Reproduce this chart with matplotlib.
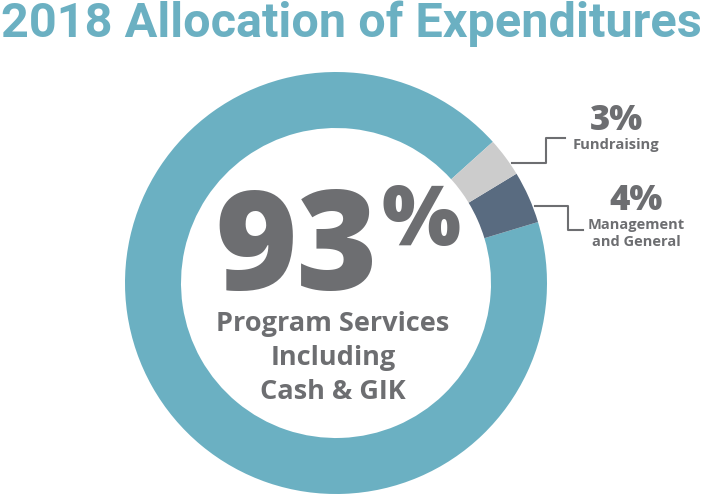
import matplotlib
matplotlib.use("Agg")
import matplotlib.pyplot as plt

# --- data ---
labels = ["Program Services Including Cash & GIK", "Management and General", "Fundraising"]
shares = [93, 4, 3]
colors = ["#6BB0C2", "#596B80", "#CCCCCC"]

TEAL = "#6BB0C2"
GREY = "#6D6E71"
W, H = 703, 496

fig = plt.figure(figsize=(W / 100, H / 100), dpi=100)
ax = fig.add_axes([0, 0, 1, 1])

# donut, in pixel units (y flipped so pie angles stay normal)
cx, cy = 336, H - 283
ax.pie(shares, colors=colors, startangle=42, center=(cx, cy), radius=211,
       wedgeprops=dict(width=56, linewidth=0))
ax.set_xlim(0, W)
ax.set_ylim(0, H)
ax.set_aspect("equal")
ax.axis("off")


def py(y):
    return H - y


# title
ax.text(1, py(37), "2018 Allocation of Expenditures", fontsize=35,
        family="Roboto", weight="bold", color=TEAL, ha="left", va="baseline")

# centre label
ax.text(297, py(290), f"{shares[0]}", fontsize=100, family="Open Sans",
        weight="heavy", color=GREY, ha="center", va="baseline")
ax.text(421, py(245), "%", fontsize=60, family="Open Sans",
        weight="heavy", color=GREY, ha="center", va="baseline")
for txt, yb in zip(["Program Services", "Including", "Cash & GIK"], [331, 365, 399]):
    ax.text(333, py(yb), txt, fontsize=19.5, family="Open Sans", weight="bold",
            color=GREY, ha="center", va="baseline")

# side labels
ax.text(616, py(130), f"{shares[2]}%", fontsize=25, family="Open Sans",
        weight="heavy", color=GREY, ha="center", va="baseline")
ax.text(616, py(149), "Fundraising", fontsize=10.6, family="Open Sans",
        weight="bold", color=GREY, ha="center", va="baseline")
ax.text(636, py(210), f"{shares[1]}%", fontsize=25, family="Open Sans",
        weight="heavy", color=GREY, ha="center", va="baseline")
ax.text(636, py(229), "Management", fontsize=10.5, family="Open Sans",
        weight="bold", color=GREY, ha="center", va="baseline")
ax.text(636, py(246), "and General", fontsize=10.5, family="Open Sans",
        weight="bold", color=GREY, ha="center", va="baseline")

# leader lines
ax.plot([512, 546, 546, 565], [py(163), py(163), py(138), py(138)],
        color=GREY, lw=1.5)
ax.plot([535, 568, 568, 583], [py(206), py(206), py(230), py(230)],
        color=GREY, lw=1.5)

fig.savefig("out.png", dpi=100)
